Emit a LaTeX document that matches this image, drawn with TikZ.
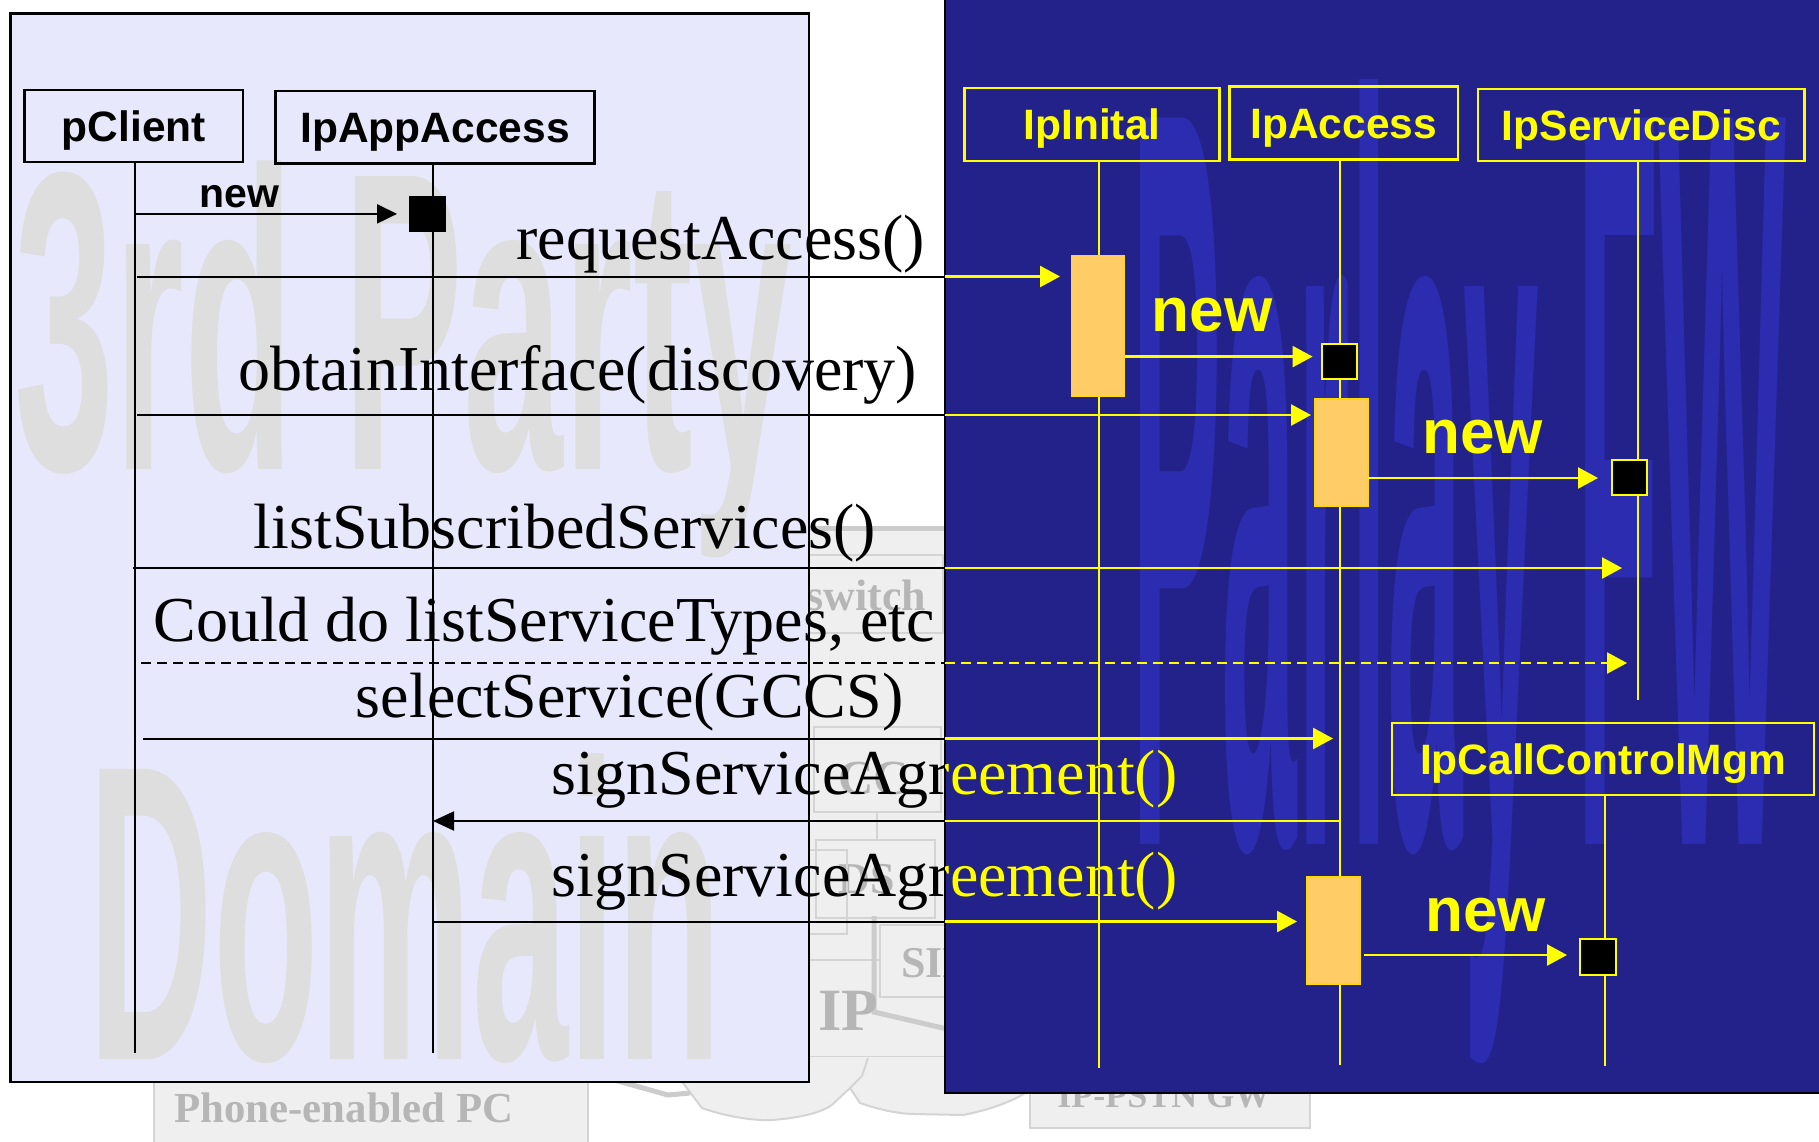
\documentclass[tikz,border=0pt]{standalone}
\usepackage{fontspec}
\setmainfont{Liberation Serif}
\setsansfont{Liberation Sans}
\usetikzlibrary{arrows.meta}

\definecolor{lav}{RGB}{232,232,252}
\definecolor{navy}{RGB}{34,34,138}
\definecolor{navywm}{RGB}{44,44,176}
\definecolor{wmgray}{RGB}{222,222,222}
\definecolor{barfill}{RGB}{255,204,102}
\definecolor{yel}{RGB}{255,255,0}
\definecolor{netfill}{RGB}{239,239,239}
\definecolor{netline}{RGB}{212,212,212}
\definecolor{netthick}{RGB}{204,204,204}
\definecolor{nettext}{RGB}{182,182,182}

\tikzset{
  objbox/.style={draw=#1, line width=1.25pt, inner sep=0pt, outer sep=0pt, text=#1,
    font=\sffamily\bfseries\fontsize{21.25}{24}\selectfont, text height=15.2pt, text depth=0pt},
  msgtext/.style={anchor=base west, inner sep=0pt, font=\fontsize{32}{38}\selectfont},
  newtext/.style={anchor=base, inner sep=0pt, font=\sffamily\bfseries\fontsize{#1}{#1}\selectfont},
  blackmsg/.style={line width=1pt, draw=black},
  yellowmsg/.style={line width=1.25pt, draw=yel},
  headB/.style={-{Triangle[length=10pt,width=9.5pt]}},
  headY/.style={-{Triangle[length=10pt,width=10.5pt]}},
  lifeB/.style={line width=1pt, draw=black},
  lifeY/.style={line width=1pt, draw=yel},
  actbar/.style={draw=yel!70!orange, line width=0.6pt, fill=barfill, inner sep=0pt, outer sep=0pt, minimum width=26.5pt},
  newobj/.style={fill=black, inner sep=0pt, outer sep=0pt, minimum width=#1, minimum height=#1},
  nettxt/.style={text=nettext, inner sep=0pt, anchor=base west, font=\bfseries\fontsize{#1}{#1}\selectfont},
  netbox/.style={draw=netline, line width=0.8pt},
  netpipe/.style={draw=netthick, line width=2.5pt},
  watermark/.style={inner sep=0pt, anchor=base west, font=\sffamily\bfseries\fontsize{10}{12}\selectfont}
}

\begin{document}
\begin{tikzpicture}[x=0.5pt,y=-0.5pt]
\useasboundingbox (0,0) rectangle (1819,1141);
\clip (0,0) rectangle (1819,1141);
\fill[white] (0,0) rectangle (1819,1141);

% ---------- network sketch in the background ----------
\fill[netfill] (640,527) rectangle (1100,1057);
\draw[netpipe] (640,528) -- (1100,528);
\draw[netbox] (640,1057) -- (1100,1057);
\draw[netbox] (700,555) rectangle (943,633);
\node[nettxt=22] (swt) at (806,610) {switch};
\draw[netbox] (814,727) rectangle (941,812);
\node[nettxt=24.5] (cct) at (838,794) {CC};
\draw[netbox] (877,812) -- (877,840);
\draw[netbox] (816,840) rectangle (935,918);
\node[nettxt=22] (dst) at (838,893) {DS};
\draw[netbox] (700,850) rectangle (847,934);
\draw[netbox] (700,960) -- (880,960);
\draw[netbox] (880,925) rectangle (1000,997);
\node[nettxt=22] (sipt) at (901,977) {SIP};
\draw[netpipe] (874,916) -- (874,1012) -- (960,1032);
\node[nettxt=30] (ipt) at (818,1030) {IP};
\draw[netbox, fill=netfill, line width=1pt]
  (683,1057) -- (683,1083) -- (702,1108)
  .. controls (730,1118) and (760,1121) .. (772,1120)
  .. controls (800,1118) and (825,1112) .. (834,1103)
  -- (850,1088) -- (860,1103)
  .. controls (880,1110) and (900,1114) .. (915,1114)
  -- (963,1115)
  .. controls (990,1110) and (1015,1100) .. (1025,1093) -- (1025,1057);
\draw[netbox, line width=1pt] (850,1088) -- (862,1076) -- (868,1058);
\draw[netpipe] (600,1076) -- (668,1095) -- (690,1093);
\draw[netbox, fill=netfill] (154,1000) rectangle (588,1160);
\node[nettxt=21.4] (pct) at (174,1122) {Phone-enabled PC};
\draw[netbox, fill=netfill] (1030,1040) rectangle (1310,1128);
\node[nettxt=18] (gwt) at (1057,1107) {IP-PSTN GW};

% ---------- the two domains ----------
\draw[fill=lav, line width=1.25pt] (10.5,13.5) rectangle (809,1082);
\draw[fill=navy, line width=1.25pt] (945,-10) rectangle (1830,1093);

\node[watermark, text=wmgray] (wm1) at (14,469) {\scalebox{8.98}[21.3]{3rd Party}};
\node[watermark, text=wmgray] (wm2) at (88,1059) {\scalebox{8.64}[21.1]{Domain}};
\node[watermark, text=navywm] (wm3) at (1131,844) {\scalebox{6.78}[52.8]{Parlay FW}};

% ---------- lifelines ----------
\coordinate (pcTop) at (135,162);   \coordinate (pcBot) at (135,1053);
\coordinate (aaTop) at (433,164);   \coordinate (aaBot) at (433,1053);
\coordinate (inTop) at (1099,161);  \coordinate (inBot) at (1099,1068);
\coordinate (acTop) at (1340,160);  \coordinate (acBot) at (1340,1065);
\coordinate (sdTop) at (1638,161);  \coordinate (sdBot) at (1638,700);
\coordinate (ccTop) at (1605,795);  \coordinate (ccBot) at (1605,1066);
\draw[lifeB] (pcTop) -- (pcBot);
\draw[lifeB] (aaTop) -- (aaBot);
\draw[lifeY] (inTop) -- (inBot);
\draw[lifeY] (acTop) -- (acBot);
\draw[lifeY] (sdTop) -- (sdBot);
\draw[lifeY] (ccTop) -- (ccBot);

% ---------- objects ----------
\node[objbox=black, minimum width=109.2pt, minimum height=36pt] (pc) at (133.8,126) {pClient};
\node[objbox=black, minimum width=159.5pt, minimum height=36.25pt] (aa) at (435.1,127.25) {IpAppAccess};
\node[objbox=yel, minimum width=127.5pt, minimum height=36.5pt] (in) at (1092,124.5) {IpInital};
\node[objbox=yel, minimum width=114.2pt, minimum height=36.4pt] (ac) at (1343.8,123) {IpAccess};
\node[objbox=yel, minimum width=163.3pt, minimum height=36pt] (sd) at (1641.3,124.8) {IpServiceDisc};
\node[objbox=yel, minimum width=211pt, minimum height=36pt] (cc) at (1603,759) {IpCallControlMgm};

% activation bars
\node[actbar, minimum height=70.5pt] (bar1) at (1097.75,326) {};
\node[actbar, minimum height=53.5pt] (bar2) at (1341.5,452.5) {};
\node[actbar, minimum height=53.5pt] (bar3) at (1333.5,930.5) {};

% created objects
\node[newobj=18.25pt] (sq0) at (427.3,213.9) {};
\node[newobj=17.25pt, draw=yel, line width=1pt] (sq1) at (1339.25,361.6) {};
\node[newobj=17.5pt, draw=yel, line width=1pt] (sq2) at (1629.2,477.5) {};
\node[newobj=17.75pt, draw=yel, line width=1pt] (sq3) at (1598,957) {};

% ---------- messages ----------
% creation of IpAppAccess
\draw[blackmsg, headB, shorten >=6pt] (pcTop |- sq0) -- (sq0.west);
\node[newtext=20.5] (new0) at (239.5,207) {new};

% requestAccess()
\coordinate (m1s) at (137,276.5);  \coordinate (m1e) at (945,276.5);  \coordinate (m1t) at (1060,276.5);
\draw[blackmsg] (m1s) -- (m1e);
\draw[yellowmsg, headY] (m1e) -- (m1t);
\node[msgtext] (t1) at (516,259) {requestAccess()};

% new IpAccess
\coordinate (n1s) at (1124.5,356.6);  \coordinate (n1t) at (1312.6,356.6);
\draw[yellowmsg, headY] (n1s) -- (n1t);
\node[newtext=31, text=yel] (new1) at (1212,331) {new};

% obtainInterface(discovery)
\coordinate (m2s) at (137,415);  \coordinate (m2e) at (945,415);  \coordinate (m2t) at (1311,415);
\draw[blackmsg] (m2s) -- (m2e);
\draw[yellowmsg, headY] (m2e) -- (m2t);
\node[msgtext] (t2) at (238,390) {obtainInterface(discovery)};

% new IpServiceDisc
\coordinate (n2s) at (1368,478);  \coordinate (n2t) at (1598,478);
\draw[yellowmsg, headY] (n2s) -- (n2t);
\node[newtext=31, text=yel] (new2) at (1482.6,453) {new};

% listSubscribedServices()
\coordinate (m3s) at (133,568);  \coordinate (m3e) at (945,568);  \coordinate (m3t) at (1622,568);
\draw[blackmsg] (m3s) -- (m3e);
\draw[yellowmsg, headY] (m3e) -- (m3t);
\node[msgtext] (t3) at (253.5,548) {listSubscribedServices()};

% optional further queries
\coordinate (m4s) at (141,663);  \coordinate (m4e) at (945,663);  \coordinate (m4t) at (1627,663);
\draw[blackmsg, dash pattern=on 5pt off 3pt] (m4s) -- (m4e);
\draw[yellowmsg, dash pattern=on 5pt off 3pt, headY] (m4e) -- (m4t);
\node[msgtext] (t4) at (153,641) {Could do listServiceTypes, etc};

% selectService(GCCS)
\coordinate (m5s) at (143,738.5);  \coordinate (m5e) at (945,738.5);  \coordinate (m5t) at (1333,738.5);
\draw[blackmsg] (m5s) -- (m5e);
\draw[yellowmsg, headY] (m5e) -- (m5t);
\node[msgtext] (t5) at (355.5,717) {selectService(GCCS)};

% signServiceAgreement() call back to the application
\coordinate (m6s) at (1340,821);  \coordinate (m6e) at (945,821);  \coordinate (m6t) at (433,821);
\draw[yellowmsg] (m6s) -- (m6e);
\draw[blackmsg, -{Triangle[length=10.5pt,width=9.5pt]}] (m6e) -- (m6t);
\node[msgtext] (t6) at (551.5,794) {signServiceAgreement()};

% signServiceAgreement() reply to IpAccess
\coordinate (m7s) at (433,921.5);  \coordinate (m7e) at (945,921.5);  \coordinate (m7t) at (1297,921.5);
\draw[blackmsg] (m7s) -- (m7e);
\draw[yellowmsg, headY] (m7e) -- (m7t);
\node[msgtext] (t7) at (551.5,896) {signServiceAgreement()};

% text continues in yellow over the framework side
\begin{scope}
  \clip (945,700) rectangle (1300,1000);
  \node[msgtext, text=yel] (t6y) at (551.5,794) {signServiceAgreement()};
  \node[msgtext, text=yel] (t7y) at (551.5,896) {signServiceAgreement()};
\end{scope}

% new IpCallControlMgm
\coordinate (n3s) at (1364,955);  \coordinate (n3t) at (1567,955);
\draw[yellowmsg, headY] (n3s) -- (n3t);
\node[newtext=31, text=yel] (new3) at (1485.4,931) {new};
\end{tikzpicture}
\end{document}
